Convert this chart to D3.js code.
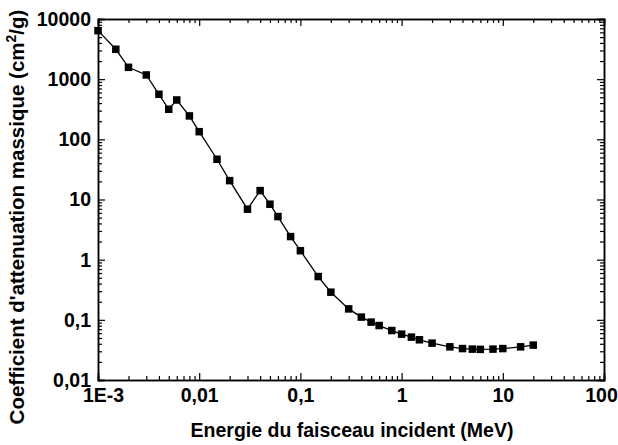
<!DOCTYPE html>
<html><head><meta charset="utf-8">
<script src="https://cdn.jsdelivr.net/npm/d3@7"></script>
<style>
html,body{margin:0;padding:0;background:#fff;}
text{font-family:"Liberation Sans",Arial,sans-serif;font-weight:bold;fill:#000;}
</style></head>
<body><svg id="c" width="618" height="445"></svg>
<script>
const energies = [0.001,0.0015,0.002,0.003,0.004,0.005,0.006,0.008,0.01,0.015,0.02,0.03,0.04,0.05,0.06,0.08,
  0.1,0.15,0.2,0.3,0.4,0.5,0.6,0.8,1,1.25,1.5,2,3,4,5,6,8,10,15,20];
const coefficients = [6400,3140,1574,1175,561,316,451,245,134,46.7,20.6,6.9,14.06,8.35,5.2,2.42,
  1.41,0.524,0.288,0.152,0.111,0.0916,0.0804,0.0664,0.0578,0.0516,0.0466,0.0410,0.0356,0.0333,0.0326,0.0323,0.0326,0.0333,0.0356,0.0380];
const xTicks = [0.001,0.01,0.1,1,10,100];
const xTickLabels = ["1E-3","0,01","0,1","1","10","100"];
const yTicks = [0.01,0.1,1,10,100,1000,10000];
const yTickLabels = ["0,01","0,1","1","10","100","1000","10000"];
const xTitle = "Energie du faisceau incident (MeV)";

const L=98,R=604,T=19,B=380;
const svg=d3.select("#c");
const x=d3.scaleLog().domain([0.001,100]).range([L,R]);
const y=d3.scaleLog().domain([0.01,10000]).range([B,T]);

function minors(dom){const out=[];for(let e=Math.log10(dom[0]);e<Math.log10(dom[1]);e++){for(let k=2;k<=9;k++)out.push(k*Math.pow(10,e));}return out;}
const xMin=minors([0.001,100]), yMin=minors([0.01,10000]);

const g=svg.append("g");
const bx=g.append("g").attr("transform",`translate(0,${B})`).call(d3.axisBottom(x).tickValues(xTicks).tickSize(-7).tickFormat((d,i)=>xTickLabels[i]).tickPadding(8));
bx.append("g").call(d3.axisBottom(x).tickValues(xMin).tickSize(-4).tickFormat(""));
const tx=g.append("g").attr("transform",`translate(0,${T})`).call(d3.axisTop(x).tickValues(xTicks).tickSize(-7).tickFormat(""));
tx.append("g").call(d3.axisTop(x).tickValues(xMin).tickSize(-4).tickFormat(""));
const ly=g.append("g").attr("transform",`translate(${L},0)`).call(d3.axisLeft(y).tickValues(yTicks).tickSize(-7).tickFormat((d,i)=>yTickLabels[i]).tickPadding(7));
ly.append("g").call(d3.axisLeft(y).tickValues(yMin).tickSize(-4).tickFormat(""));
const ry=g.append("g").attr("transform",`translate(${R},0)`).call(d3.axisRight(y).tickValues(yTicks).tickSize(-7).tickFormat(""));
ry.append("g").call(d3.axisRight(y).tickValues(yMin).tickSize(-4).tickFormat(""));

svg.selectAll(".domain").attr("stroke","#000").attr("stroke-width",1.5);
svg.selectAll(".tick line").attr("stroke","#000").attr("stroke-width",1.2);
svg.selectAll(".tick text").style("font-size","19.5px").style("font-family","'Liberation Sans',Arial,sans-serif").style("font-weight","bold");
ly.selectAll(".tick text").attr("dy","0.33em");
bx.selectAll(".tick text").filter((d,i)=>i===0).attr("dx",5);
bx.selectAll(".tick text").filter((d,i)=>i===5).attr("dx",-3);

svg.append("path").datum(energies.map((e,i)=>[e,coefficients[i]]))
  .attr("fill","none").attr("stroke","#000").attr("stroke-width",1.3)
  .attr("d",d3.line().x(d=>x(d[0])).y(d=>y(d[1])));
const s=7.5;
svg.selectAll("rect.m").data(energies.map((e,i)=>[e,coefficients[i]])).enter().append("rect")
  .attr("class","m").attr("x",d=>x(d[0])-s/2).attr("y",d=>y(d[1])-s/2).attr("width",s).attr("height",s).attr("fill","#000");

svg.append("text").attr("x",(L+R)/2+1).attr("y",437).attr("text-anchor","middle").style("font-size","19.5px").text(xTitle);
const yt=svg.append("text").attr("transform","translate(24,217) rotate(-90)").attr("text-anchor","middle").style("font-size","20.5px");
yt.append("tspan").text("Coefficient d'attenuation massique (cm");
yt.append("tspan").attr("dy",-8).style("font-size","14px").text("2");
yt.append("tspan").attr("dy",8).text("/g)");
</script></body></html>
